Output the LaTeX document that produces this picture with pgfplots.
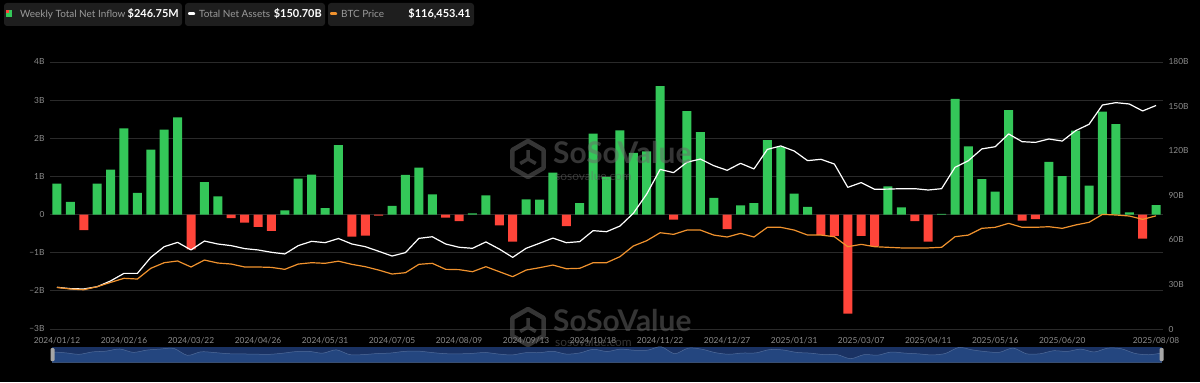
\documentclass[border=0pt]{standalone}
\usepackage{fontspec}
\setmainfont{Lato}
\usepackage{pgfplots}
\pgfplotsset{compat=1.18}
\usepackage{pgfplotstable}
\definecolor{grn}{HTML}{34C759}
\definecolor{rd}{HTML}{FF453A}
\definecolor{org}{HTML}{F0922E}
\definecolor{tickc}{HTML}{8C8C8C}
\definecolor{gridc}{HTML}{2A2A2A}
\definecolor{legbg}{HTML}{1E1E1E}
\definecolor{legtxt}{HTML}{9A9A9A}
\definecolor{navbg}{HTML}{1A3263}
\definecolor{navfg}{HTML}{24467F}
\definecolor{wm}{HTML}{6A6A6A}

\pgfplotstableread{
i flow assets btc
0 0.81 28.1 46.3
1 0.33 27.2 44.7
2 -0.41 27.0 44.0
3 0.81 28.5 47.0
4 1.18 32.4 51.2
5 2.26 37.5 55.2
6 0.57 37.5 54.5
7 1.70 48.3 65.0
8 2.23 55.5 70.5
9 2.55 58.4 72.2
10 -0.91 53.3 66.3
11 0.85 59.3 73.1
12 0.48 57.3 70.2
13 -0.09 56.2 69.2
14 -0.21 54.2 66.3
15 -0.32 53.3 66.3
16 -0.43 51.7 65.9
17 0.11 50.6 64.0
18 0.94 56.2 69.2
19 1.05 59.1 70.5
20 0.17 58.2 69.9
21 1.82 61.0 72.0
22 -0.58 57.3 68.9
23 -0.55 55.5 66.6
24 -0.03 52.4 63.3
25 0.23 49.2 59.4
26 1.04 51.5 60.7
27 1.23 61.1 68.9
28 0.53 62.2 69.9
29 -0.08 57.3 64.0
30 -0.17 55.1 63.7
31 0.03 54.4 61.7
32 0.50 58.7 66.6
33 -0.28 53.9 61.7
34 -0.71 48.3 56.8
35 0.40 54.4 63.3
36 0.39 57.8 65.6
37 1.10 61.3 68.2
38 -0.30 58.2 64.6
39 0.30 58.9 65.0
40 2.12 66.3 70.5
41 0.99 65.6 70.5
42 2.21 69.4 76.4
43 1.62 78.0 86.9
44 1.66 91.0 92.1
45 3.37 107.6 99.9
46 -0.13 105.4 98.3
47 2.71 112.4 102.5
48 2.16 114.6 102.5
49 0.44 110.1 97.6
50 -0.38 107.0 95.7
51 0.24 111.7 99.3
52 0.30 107.9 95.7
53 1.95 121.1 105.2
54 1.77 123.4 105.2
55 0.55 120.0 102.5
56 0.20 113.5 97.6
57 -0.54 114.4 97.6
58 -0.56 111.2 96.0
59 -2.60 95.5 86.2
60 -0.56 98.7 88.5
61 -0.83 94.2 86.2
62 0.74 94.3 85.6
63 0.19 94.6 85.0
64 -0.17 94.6 85.0
65 -0.71 93.7 85.0
66 0.02 94.6 85.6
67 3.03 109.0 96.0
68 1.79 113.5 97.6
69 0.93 121.4 104.2
70 0.60 122.9 105.2
71 2.74 131.5 109.1
72 -0.16 126.3 105.2
73 -0.12 125.8 105.2
74 1.38 128.1 105.8
75 1.01 126.7 104.2
76 2.20 133.7 107.5
77 0.76 138.0 110.1
78 2.70 151.0 117.9
79 2.37 152.6 117.3
80 0.06 151.7 116.3
81 -0.63 147.0 113.0
82 0.247 150.7 116.45
}\data

\begin{document}
\begin{tikzpicture}[x=1bp,y=1bp]
\fill[black] (0,0) rectangle (1200,382);
\useasboundingbox (0,0) rectangle (1200,382);

% legend boxes
\fill[legbg, rounded corners=3bp] (4,356) rectangle (182,379);
\fill[legbg, rounded corners=3bp] (185,356) rectangle (325,379);
\fill[legbg, rounded corners=3bp] (328,356) rectangle (474,379);
\fill[grn] (6,365) rectangle (12,372);
\fill[rd] (6,369) rectangle (9,372);
\fill[white, rounded corners=1bp] (188,367) rectangle (195,369.8);
\fill[org, rounded corners=1bp] (330,367) rectangle (337,369.8);
\node[anchor=base west, inner sep=0, text=legtxt, font=\fontsize{10}{11}\selectfont] at (20,364.5) {Weekly Total Net Inflow};
\node[anchor=base east, inner sep=0, text=white, font=\fontsize{11}{12}\selectfont\bfseries] at (179,364.5) {\$246.75M};
\node[anchor=base west, inner sep=0, text=legtxt, font=\fontsize{10}{11}\selectfont] at (199,364.5) {Total Net Assets};
\node[anchor=base east, inner sep=0, text=white, font=\fontsize{11}{12}\selectfont\bfseries] at (322,364.5) {\$150.70B};
\node[anchor=base west, inner sep=0, text=legtxt, font=\fontsize{10}{11}\selectfont] at (341,364.5) {BTC Price};
\node[anchor=base east, inner sep=0, text=white, font=\fontsize{11}{12}\selectfont\bfseries] at (471,364.5) {\$116,453.41};

% main axis: weekly net inflow (left)
\begin{axis}[
  at={(50bp,53bp)}, anchor=south west,
  scale only axis, width=1113bp, height=267bp,
  xmin=-0.52, xmax=82.52, ymin=-3, ymax=4,
  axis line style={draw=none},
  tick style={draw=none},
  ymajorgrids, grid style={gridc, line width=0.8bp},
  xtick={0,5,10,15,20,25,30,35,40,45,50,55,60,65,70,75,82},
  xticklabels={2024/01/12,2024/02/16,2024/03/22,2024/04/26,2024/05/31,2024/07/05,2024/08/09,2024/09/13,2024/10/18,2024/11/22,2024/12/27,2025/01/31,2025/03/07,2025/04/11,2025/05/16,2025/06/20,2025/08/08},
  ytick={-3,-2,-1,0,1,2,3,4},
  yticklabels={−3B,−2B,−1B,0,1B,2B,3B,4B},
  ticklabel style={font=\fontsize{8.4}{10}\selectfont, text=tickc},
  xticklabel style={yshift=-5bp},
  yticklabel style={xshift=-2bp},
]
\addplot[ybar, bar width=9bp, bar shift=0pt, fill=grn, draw=none, restrict y to domain=0:10] table[x=i, y=flow]{\data};
\addplot[ybar, bar width=9bp, bar shift=0pt, fill=rd, draw=none, restrict y to domain=-10:0] table[x=i, y=flow]{\data};
\end{axis}

% right axis: total net assets
\begin{axis}[
  at={(50bp,53bp)}, anchor=south west,
  scale only axis, width=1113bp, height=267bp,
  xmin=-0.52, xmax=82.52, ymin=0, ymax=180,
  axis x line=none, axis y line*=right,
  axis line style={draw=none},
  tick style={draw=none},
  ytick={0,30,60,90,120,150,180},
  yticklabels={0,30B,60B,90B,120B,150B,180B},
  ticklabel style={font=\fontsize{8.4}{10}\selectfont, text=tickc},
  yticklabel style={xshift=2bp},
]
\addplot[white, line width=1.2bp, line join=round] table[x=i, y=assets]{\data};
\end{axis}

% hidden axis: BTC price (k USD)
\begin{axis}[
  at={(50bp,53bp)}, anchor=south west,
  scale only axis, width=1113bp, height=267bp,
  xmin=-0.52, xmax=82.52, ymin=5.5, ymax=267.3,
  hide axis,
]
\addplot[org, line width=1.2bp, line join=round] table[x=i, y=btc]{\data};
\end{axis}

% navigator
\fill[navbg] (52,19.7) rectangle (1162,35.3);
\begin{axis}[
  at={(52bp,19.7bp)}, anchor=south west,
  scale only axis, width=1110bp, height=15.6bp,
  xmin=0, xmax=82, ymin=0, ymax=7.8,
  hide axis,
]
\addplot[smooth, fill=navfg, draw=navfg!80!white, line width=0.5bp] table[x=i, y expr=\thisrow{flow}+4.4]{\data} \closedcycle;
\end{axis}
\fill[gray!70, rounded corners=1bp] (50.5,21) rectangle (54.5,34);
\fill[gray!70, rounded corners=1bp] (1159.5,21) rectangle (1163.5,34);

% watermarks
\begin{scope}[opacity=0.5]
\foreach \cy/\ty/\sy in {223/219/202, 55/51/36}{
  \draw[wm, line width=4.5bp, line join=round] (528,\cy) +(90:18) -- +(150:18) -- +(210:18) -- +(270:18) -- +(330:18) -- +(30:18) -- cycle;
  \draw[wm, line width=3.5bp] (528,\cy) -- +(90:9) (528,\cy) -- +(210:9) (528,\cy) -- +(330:9);
  \node[anchor=base west, inner sep=0, text=wm, font=\fontsize{30}{32}\selectfont\bfseries] at (553,\ty) {SoSoValue};
  \node[anchor=base west, inner sep=0, text=wm, font=\fontsize{12}{14}\selectfont] at (555,\sy) {sosovalue.com};
}
\end{scope}
\end{tikzpicture}
\end{document}
